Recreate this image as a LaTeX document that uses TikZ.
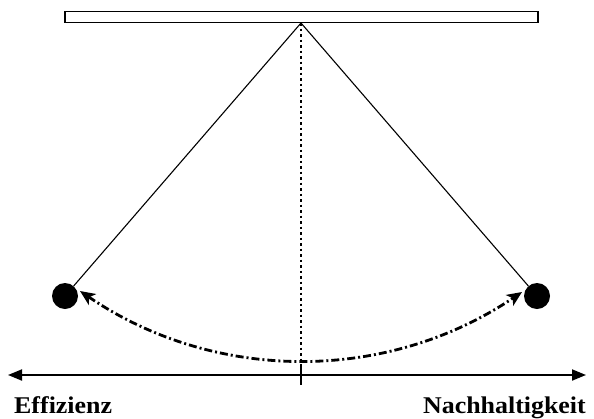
\documentclass[tikz,border=0pt]{standalone}
\usepackage{fontspec}
\setmainfont{Liberation Serif}
\usetikzlibrary{arrows.meta}
\begin{document}
\begin{tikzpicture}[x=1pt,y=-1pt,
  barbox/.style={draw,line width=1.3pt,fill=white,minimum width=473pt,minimum height=11pt,inner sep=0pt},
  ball/.style={circle,fill=black,minimum size=26pt,inner sep=0pt},
  rope/.style={line width=1.1pt},
  swing/.style={line width=2.8pt,dash pattern=on 8pt off 3pt on 2pt off 3pt,
    {Stealth[length=15pt,width=13pt,inset=4pt]}-{Stealth[length=15pt,width=13pt,inset=4pt]}},
  axis/.style={line width=1.9pt,{Triangle[length=14pt,width=11pt]}-{Triangle[length=14pt,width=11pt]}},
  lbl/.style={font=\fontsize{24}{26}\selectfont\bfseries,inner sep=0pt}]
\useasboundingbox (0,0) rectangle (594,418);
\node[barbox] (bar) at (301.5,17) {};
\coordinate (pivot) at (301,23);
\node[ball] (lball) at (65,296) {};
\node[ball] (rball) at (537,296) {};
\coordinate (lend) at (80,291);
\coordinate (rend) at (522,292);
\coordinate (axl) at (8,375);
\coordinate (axr) at (586,375);
\coordinate (bottom) at (301,385);
\draw[rope] (pivot) -- (lball);
\draw[rope] (pivot) -- (rball);
\draw[line width=1.7pt,dash pattern=on 2.5pt off 3pt] (pivot) -- (bottom);
\draw[swing] (lend) .. controls (215,383) and (387,383) .. (rend);
\draw[axis] (axl) -- (axr);
\draw[line width=1.9pt] (301,366) -- (bottom);
\node[lbl,anchor=base west] (eff) at (14,413) {\scalebox{1.08}[1]{Effizienz}};
\node[lbl,anchor=base east] (nach) at (586,413) {\scalebox{1.08}[1]{Nachhaltigkeit}};
\end{tikzpicture}
\end{document}
